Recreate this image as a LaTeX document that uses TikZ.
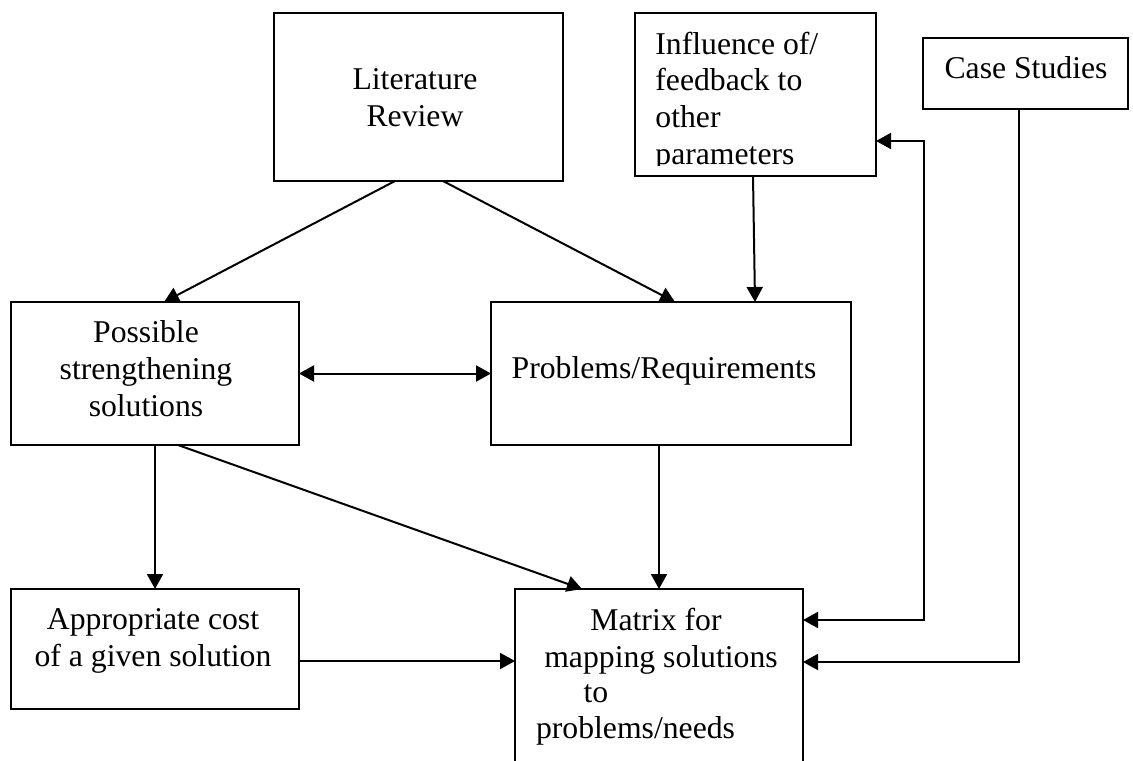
\documentclass[tikz,border=0pt]{standalone}
\usepackage{fontspec}
\setmainfont{Liberation Serif}
\usetikzlibrary{arrows.meta,fit}
\begin{document}
\begin{tikzpicture}[x=0.5pt,y=-0.5pt,
  box/.style={draw, line width=1pt, inner sep=0pt, outer sep=0pt},
  txt/.style={inner sep=0pt, font=\fontsize{15.85}{18.4}\selectfont},
  arr/.style={-{Triangle[length=7.5pt,width=8pt]}, line width=1pt},
  darr/.style={{Triangle[length=7.5pt,width=8pt]}-{Triangle[length=7.5pt,width=8pt]}, line width=1pt}]
\useasboundingbox (0,0) rectangle (1133,760);

% boxes
\node[box, fit={(274,13) (563,181)}] (lit) {};
\node[box, fit={(635,13) (876,176)}] (inf) {};
\node[box, fit={(923,38) (1128,109)}] (cs) {};
\node[box, fit={(11,302) (299,445)}] (poss) {};
\node[box, fit={(491,302) (851,445)}] (prob) {};
\node[box, fit={(11,589) (299,709)}] (appr) {};
\node[box, fit={(515,589) (803,775)}] (mat) {};

% texts
\node[txt, anchor=north, align=center] (litT) at (415,68.3) {Literature\\Review};
\begin{scope}
  \clip (636,14) rectangle (875,165);
  \node[txt, anchor=north west, align=left] (infT) at (655,31.3) {Influence of/\\feedback to\\other\\parameters};
\end{scope}
\node[txt, anchor=base] (csT) at (1026,78) {Case Studies};
\node[txt, anchor=north, align=center] (possT) at (146,320.3) {Possible\\strengthening\\solutions};
\node[txt, anchor=base] (probT) at (664,378) {Problems/Requirements};
\node[txt, anchor=north, align=center] (apprT) at (153,608.3) {Appropriate cost\\of a given solution};
\node[txt, anchor=base] (matT1) at (656,630) {Matrix for};
\node[txt, anchor=base] (matT2) at (661,667) {mapping solutions};
\node[txt, anchor=base] (matT3) at (596,702) {to};
\node[txt, anchor=base] (matT4) at (635.5,738) {problems/needs};

% bend points
\coordinate (b1) at (924,141);
\coordinate (b2) at (924,620);
\coordinate (b3) at (1019,662);

% connectors
\draw[arr] ([xshift=-11.75pt]lit.south) -- ([xshift=4.5pt]poss.north);
\draw[arr] ([xshift=12.25pt]lit.south) -- ([xshift=2pt]prob.north);
\draw[arr] ([xshift=-1.25pt]inf.south) -- ([xshift=42pt]prob.north);
\draw[darr] (poss.east) -- (prob.west);
\draw[arr] (poss.south) -- (appr.north);
\draw[arr] ([xshift=11.5pt]poss.south) -- ([xshift=-38.5pt]mat.north);
\draw[arr] (prob.south -| mat.north) -- (mat.north);
\draw[arr] ([yshift=-6pt]appr.east) -- ([yshift=-6pt]appr.east -| mat.west);
\draw[darr] (b1 -| inf.east) -- (b1) -- (b2) -- (b2 -| mat.east);
\draw[arr] (cs.south -| b3) -- (b3) -- (b3 -| mat.east);
\end{tikzpicture}
\end{document}
